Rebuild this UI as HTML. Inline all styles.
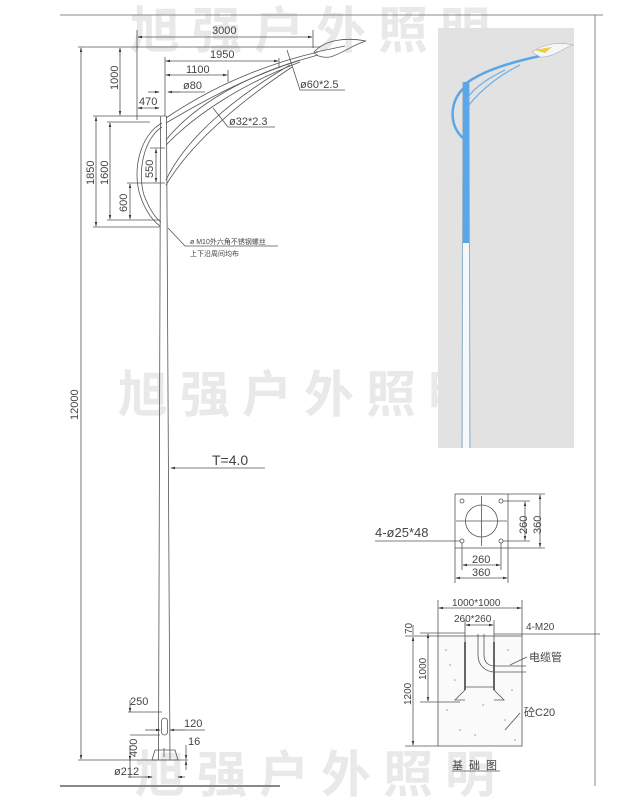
<!DOCTYPE html>
<html><head><meta charset="utf-8"><style>
body{margin:0;background:#fff}
svg{display:block}
text{font-family:"Liberation Sans","Noto Sans CJK SC",sans-serif;fill:#444}
.wm{font-family:"Noto Sans CJK SC","WenQuanYi Zen Hei",sans-serif;font-weight:bold;fill:#e9e9e9;font-size:50px;letter-spacing:12px}
.l{stroke:#555;stroke-width:0.8;fill:none}
.t{font-size:11px}
</style></head><body>
<svg width="640" height="800" viewBox="0 0 640 800">
<defs><marker id="a" markerWidth="6" markerHeight="6" refX="5" refY="3" orient="auto-start-reverse"><path d="M0,1.5 L6,3 L0,4.5z" fill="#333"/></marker></defs>
<!-- watermarks -->
<text class="wm" x="130" y="48">旭强户外照明</text>
<text class="wm" x="118" y="412">旭强户外照明</text>
<text class="wm" x="135" y="792">旭强户外照明</text>
<!-- frame -->
<line x1="60" y1="15" x2="603" y2="15" stroke="#888" stroke-width="1"/>
<line x1="595" y1="15" x2="595" y2="786" stroke="#888" stroke-width="1"/>
<line x1="60" y1="786" x2="280" y2="786" stroke="#888" stroke-width="2"/>
<!-- photo -->
<rect x="438" y="28" width="136" height="420" fill="#e2e2e2"/>
<path d="M463,82 L462,448 M469,82 L470,448" stroke="#8fb0c8" stroke-width="1"/>
<rect x="463" y="82" width="6" height="161" fill="#5aa6e6"/>
<rect x="463" y="243" width="6" height="205" fill="#f4f8fb"/>
<path d="M464,85 C480,72 510,62 545,55" stroke="#5aa6e6" stroke-width="2.5" fill="none"/>
<path d="M464,88 C450,100 448,125 463,138" stroke="#5aa6e6" stroke-width="2.5" fill="none"/>
<path d="M465,110 C480,90 500,75 520,65 M466,100 C475,85 495,75 505,70" stroke="#6aaee6" stroke-width="1.2" fill="none"/>
<path d="M532,52 C545,43 560,42 573,45 C560,50 552,58 540,57z" fill="#f4f6f8" stroke="#aab" stroke-width="0.6"/>
<path d="M534,50 L552,47 L545,53z" fill="#e8d040"/>
<!-- pole -->
<path class="l" d="M160.5,116 L158.5,760 M166.5,116 L170,760 M160.5,116 L166.5,116"/>
<!-- arms -->
<path class="l" d="M166,118 C200,95 250,68 318,52 M166,123 C205,100 255,72 318,55"/>
<path class="l" d="M166,140 C190,110 235,80 300,60 M166,145 C195,115 240,85 300,62"/>
<path class="l" d="M166,180 C185,140 230,100 290,65 M166,185 C190,145 235,105 292,67"/>
<path class="l" d="M162,123 C140,135 132,170 140,195 C145,210 152,220 160,226 M162,127 C144,138 137,172 144,195 C149,208 154,217 161,222"/>
<path class="l" d="M314,52 C325,40 345,37 366,41 C352,45 342,54 330,57 C322,58 316,56 314,52z M316,52 L345,46"/>
<!-- top dims -->
<path class="l" d="M78,47 L320,47 M137,30 L137,120 M313,30 L313,48 M165,57 L165,116 M279,58 L279,68 M228,70 L228,82"/>
<line class="l" x1="138" y1="37" x2="312" y2="37" marker-start="url(#a)" marker-end="url(#a)"/>
<text class="t" x="212" y="34">3000</text>
<line class="l" x1="166" y1="61" x2="278" y2="61" marker-start="url(#a)" marker-end="url(#a)"/>
<text class="t" x="210" y="58">1950</text>
<line class="l" x1="166" y1="75" x2="227" y2="75" marker-start="url(#a)" marker-end="url(#a)"/>
<text class="t" x="186" y="73">1100</text>
<line class="l" x1="148" y1="92" x2="159" y2="92" marker-end="url(#a)"/>
<line class="l" x1="180" y1="92" x2="168" y2="92" marker-end="url(#a)"/>
<line class="l" x1="170" y1="92" x2="205" y2="92"/>
<text class="t" x="183" y="89">ø80</text>
<line class="l" x1="138" y1="108" x2="159" y2="108" marker-start="url(#a)" marker-end="url(#a)"/>
<text class="t" x="139" y="105">470</text>
<path class="l" d="M287,50 L300,90 L345,90 M213,108 L228,127 L275,127"/>
<text class="t" x="300" y="88">ø60*2.5</text>
<text class="t" x="229" y="125">ø32*2.3</text>
<!-- vertical dims left -->
<path class="l" d="M93,116 L160,116 M107,122 L150,122 M93,227 L160,227 M107,220 L160,220 M127,183 L165,183 M150,148 L165,148"/>
<line class="l" x1="81" y1="48" x2="81" y2="759" marker-start="url(#a)" marker-end="url(#a)"/>
<line class="l" x1="120" y1="48" x2="120" y2="115" marker-start="url(#a)" marker-end="url(#a)"/>
<line class="l" x1="96" y1="117" x2="96" y2="226" marker-start="url(#a)" marker-end="url(#a)"/>
<line class="l" x1="110" y1="123" x2="110" y2="219" marker-start="url(#a)" marker-end="url(#a)"/>
<line class="l" x1="130" y1="184" x2="130" y2="219" marker-start="url(#a)" marker-end="url(#a)"/>
<line class="l" x1="156" y1="149" x2="156" y2="182" marker-start="url(#a)" marker-end="url(#a)"/>
<text class="t" transform="translate(118,90) rotate(-90)">1000</text>
<text class="t" transform="translate(94,185) rotate(-90)">1850</text>
<text class="t" transform="translate(108,185) rotate(-90)">1600</text>
<text class="t" transform="translate(127,212) rotate(-90)">600</text>
<text class="t" transform="translate(153,178) rotate(-90)">550</text>
<text class="t" transform="translate(78,420) rotate(-90)">12000</text>
<!-- note -->
<path class="l" d="M168,228 L185,246 L278,246"/>
<text x="190" y="244" style="font-size:7px">ø M10外六角不锈钢螺丝</text>
<text x="190" y="256" style="font-size:7px">上下沿周间均布</text>
<!-- T=4.0 -->
<line class="l" x1="265" y1="468" x2="171" y2="468" marker-end="url(#a)"/>
<text x="212" y="465" style="font-size:14px">T=4.0</text>
<!-- base -->
<rect class="l" x="161.5" y="718" width="6" height="17" rx="3"/>
<path class="l" d="M155,750 L175,750 L178,760 L152,760z M164,748 L164,757"/>
<path class="l" d="M78,760 L188,760 M128,712 L162,712 M130,735 L160,735 M128,777 L150,777 M130,760 L130,778"/>
<line class="l" x1="130" y1="700" x2="130" y2="712" marker-end="url(#a)"/>
<line class="l" x1="130" y1="745" x2="130" y2="760" marker-end="url(#a)"/>
<line class="l" x1="145" y1="730" x2="160" y2="730" marker-end="url(#a)"/>
<line class="l" x1="185" y1="730" x2="170" y2="730" marker-end="url(#a)"/>
<line class="l" x1="170" y1="730" x2="205" y2="730"/>
<line class="l" x1="186" y1="745" x2="186" y2="759" marker-end="url(#a)"/>
<line class="l" x1="186" y1="770" x2="186" y2="761" marker-end="url(#a)"/>
<line class="l" x1="145" y1="777" x2="152" y2="777" marker-end="url(#a)"/>
<line class="l" x1="185" y1="777" x2="178" y2="777" marker-end="url(#a)"/>
<text class="t" x="130" y="705">250</text>
<text class="t" x="184" y="727">120</text>
<text class="t" x="188" y="745">16</text>
<text class="t" transform="translate(137,757) rotate(-90)">400</text>
<text class="t" x="114" y="775">ø212</text>
<!-- flange plan -->
<rect class="l" x="455" y="494" width="53" height="54"/>
<circle class="l" cx="481.5" cy="521" r="16"/>
<path class="l" d="M481.5,496 L481.5,546 M456,521 L507,521"/>
<circle class="l" cx="462" cy="501" r="2"/><circle class="l" cx="501" cy="501" r="2"/>
<circle class="l" cx="462" cy="541" r="2"/><circle class="l" cx="501" cy="541" r="2"/>
<path class="l" d="M503,501 L530,501 M503,541 L530,541 M508,494 L545,494 M508,548 L545,548 M462,543 L462,570 M501,543 L501,570 M455,548 L455,583 M508,548 L508,583 M375,541 L460,541"/>
<line class="l" x1="525" y1="502" x2="525" y2="540" marker-start="url(#a)" marker-end="url(#a)"/>
<line class="l" x1="540" y1="495" x2="540" y2="547" marker-start="url(#a)" marker-end="url(#a)"/>
<line class="l" x1="463" y1="565" x2="500" y2="565" marker-start="url(#a)" marker-end="url(#a)"/>
<line class="l" x1="456" y1="578" x2="507" y2="578" marker-start="url(#a)" marker-end="url(#a)"/>
<text class="t" transform="translate(527,534) rotate(-90)">260</text>
<text class="t" transform="translate(541,534) rotate(-90)">360</text>
<text class="t" x="472" y="563">260</text>
<text class="t" x="472" y="576">360</text>
<text x="375" y="537" style="font-size:13px">4-ø25*48</text>
<!-- foundation -->
<rect x="438" y="636" width="84" height="110" fill="#fafafa" stroke="#555" stroke-width="0.8"/>
<g fill="#999"><circle cx="446" cy="650" r="0.8"/><circle cx="455" cy="680" r="0.8"/><circle cx="447" cy="710" r="0.8"/><circle cx="460" cy="730" r="0.8"/><circle cx="508" cy="650" r="0.8"/><circle cx="512" cy="690" r="0.8"/><circle cx="505" cy="720" r="0.8"/><circle cx="483" cy="705" r="0.8"/><circle cx="475" cy="735" r="0.8"/><circle cx="450" cy="665" r="0.8"/><circle cx="515" cy="740" r="0.8"/></g>
<path d="M465,642 L465,690 M494,642 L494,690" stroke="#666" stroke-width="2"/>
<path class="l" d="M466,687 L494,687 M465,690 L455,700 L465,700 M494,690 L504,700 L494,700 M478,634 L478,655 C478,665 485,672 495,672 L526,672 M484,634 L484,655 C484,662 488,666 495,666 L526,666"/>
<path class="l" d="M438,600 L438,636 M522,600 L522,636 M465,620 L465,642 M494,620 L494,642 M405,636 L438,636 M405,746 L438,746 M420,633 L465,633 M420,702 L460,702 M494,634 L600,634 M510,665 L527,657 M505,730 L520,713"/>
<line class="l" x1="439" y1="608" x2="521" y2="608" marker-start="url(#a)" marker-end="url(#a)"/>
<line class="l" x1="466" y1="625" x2="493" y2="625" marker-start="url(#a)" marker-end="url(#a)"/>
<line class="l" x1="413" y1="637" x2="413" y2="745" marker-start="url(#a)" marker-end="url(#a)"/>
<line class="l" x1="428" y1="634" x2="428" y2="701" marker-start="url(#a)" marker-end="url(#a)"/>
<line class="l" x1="413" y1="625" x2="413" y2="635"/>
<text style="font-size:10px" x="452" y="606">1000*1000</text>
<text style="font-size:10px" x="454" y="622">260*260</text>
<text style="font-size:10px" x="526" y="630">4-M20</text>
<text style="font-size:10px" transform="translate(412,634) rotate(-90)">70</text>
<text style="font-size:10px" transform="translate(426,680) rotate(-90)">1000</text>
<text style="font-size:10px" transform="translate(411,705) rotate(-90)">1200</text>
<text style="font-size:11px" x="529" y="661">电缆管</text>
<text style="font-size:11px" x="524" y="716">砼C20</text>
<text style="font-size:11px;letter-spacing:6px" x="452" y="769">基础图</text>
<line class="l" x1="452" y1="771" x2="500" y2="771"/>
</svg>
</body></html>
